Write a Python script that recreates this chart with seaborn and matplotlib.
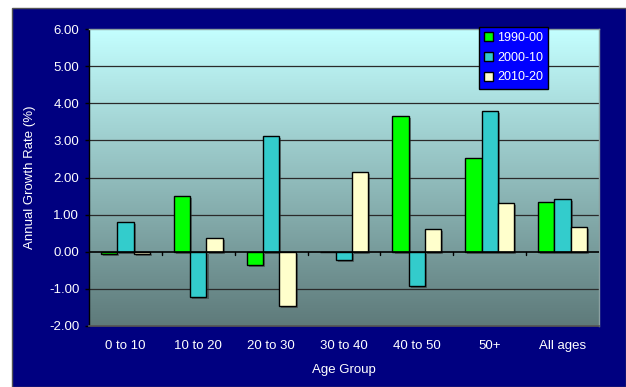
import numpy as np
import pandas as pd
import matplotlib
matplotlib.use("Agg")
import matplotlib.pyplot as plt
from matplotlib.patches import Rectangle
from matplotlib.colors import LinearSegmentedColormap
import matplotlib.patheffects as pe
import seaborn as sns

# Age groups and annual growth rates (%) per decade
groups = ["0 to 10", "10 to 20", "20 to 30", "30 to 40", "40 to 50", "50+", "All ages"]
periods = ["1990-00", "2000-10", "2010-20"]
rate_1990 = [-0.07, 1.50, -0.35, 0.00, 3.67, 2.53, 1.34]
rate_2000 = [0.81, -1.22, 3.13, -0.21, -0.91, 3.79, 1.42]
rate_2010 = [-0.05, 0.38, -1.47, 2.14, 0.62, 1.31, 0.68]
yticks = [-2, -1, 0, 1, 2, 3, 4, 5, 6]

df = pd.DataFrame({
    "Age Group": groups * 3,
    "Rate": rate_1990 + rate_2000 + rate_2010,
    "Period": [p for p in periods for _ in groups],
})

NAVY = "#000080"
palette = ["#00FF00", "#33CCCC", "#FFFFCC"]
FS = 9.5

sns.set_theme(style="white")
plt.rcParams["font.family"] = ["Liberation Sans", "DejaVu Sans"]

W, H = 626, 387
fig = plt.figure(figsize=(W / 100, H / 100), dpi=100)
fig.patch.set_facecolor("white")
fig.patches.append(Rectangle((12 / W, 0), 1 - 12 / W, 1 - 8 / H, transform=fig.transFigure,
                             facecolor=NAVY, edgecolor="#555555", linewidth=1.0, zorder=-10))

ax = fig.add_axes([89 / W, (H - 326) / H, 510 / W, 297 / H])
ax.set_facecolor("none")

# vertical gradient backdrop of the plotting area
grad = LinearSegmentedColormap.from_list("bg", ["#5E7A7A", "#C4FFFF"])
ax.imshow(np.linspace(0, 1, 256).reshape(-1, 1), cmap=grad, origin="lower",
          extent=[-0.5, 6.5, -2, 6], aspect="auto", zorder=0)

sns.barplot(data=df, x="Age Group", y="Rate", hue="Period", palette=palette,
            width=0.67, edgecolor="black", linewidth=1.0, ax=ax, zorder=3,
            saturation=1)
for bar in ax.patches:
    bar.set_path_effects([pe.SimplePatchShadow(offset=(1.5, -1.5), shadow_rgbFace="#333333", alpha=0.5),
                          pe.Normal()])

ax.set_xlim(-0.5, 6.5)
ax.set_ylim(-2, 6)
ax.set_yticks(yticks)
ax.set_yticklabels([f"{v:.2f}" for v in yticks])
for v in yticks:
    if v not in (0, -2, 6):
        ax.axhline(v, color="#2A2A2A", linewidth=0.9, zorder=1)
ax.axhline(0, color="black", linewidth=1.2, zorder=4)
for b in np.arange(0.5, 6.0, 1.0):
    ax.plot([b, b], [0, -0.09], color="black", linewidth=1.0, zorder=4)

for side in ["top", "right"]:
    ax.spines[side].set_color("#8AA0A0")
    ax.spines[side].set_linewidth(1.0)
ax.spines["bottom"].set_color("#555555")
ax.spines["left"].set_color("black")
ax.spines["left"].set_linewidth(1.0)

ax.tick_params(axis="y", colors="black", labelcolor="white", labelsize=FS,
               length=3, width=1, direction="out", left=True, pad=4)
ax.tick_params(axis="x", labelcolor="white", labelsize=FS, length=0, pad=10)
ax.set_xlabel("Age Group", color="white", fontsize=FS, labelpad=9)
ax.set_ylabel("Annual Growth Rate (%)", color="white", fontsize=FS, labelpad=9)

handles, labels = ax.get_legend_handles_labels()
leg = ax.legend(handles, labels, loc="upper left", bbox_to_anchor=(479 / W, 1 - 27 / H),
                bbox_transform=fig.transFigure, frameon=True, fancybox=False,
                facecolor="#0000FF", edgecolor="black", framealpha=1,
                fontsize=9, labelcolor="white", handlelength=0.7, handleheight=0.7,
                handletextpad=0.35, borderpad=0.4, labelspacing=0.62, borderaxespad=0)
leg.get_frame().set_linewidth(1.0)
leg.set_zorder(10)
for h in leg.legend_handles:
    h.set_path_effects([])

fig.savefig("out.png", dpi=100, facecolor=fig.get_facecolor())
